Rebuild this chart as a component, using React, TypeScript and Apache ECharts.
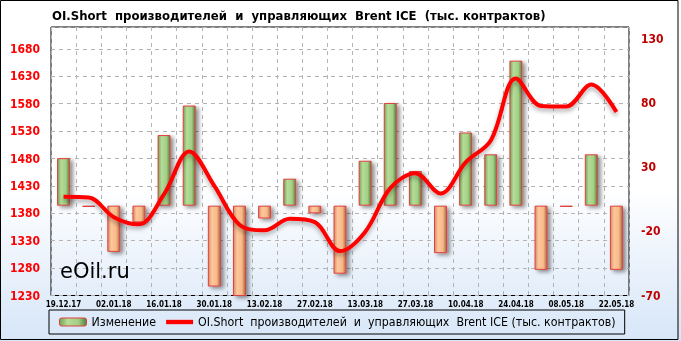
import React, { useEffect, useRef } from "react";
import * as echarts from "echarts";

const categories = [
  "19.12.17", "26.12.17", "02.01.18", "09.01.18", "16.01.18", "23.01.18",
  "30.01.18", "06.02.18", "13.02.18", "20.02.18", "27.02.18", "06.03.18",
  "13.03.18", "20.03.18", "27.03.18", "03.04.18", "10.04.18", "17.04.18",
  "24.04.18", "01.05.18", "08.05.18", "15.05.18", "22.05.18",
];
const changeValues = [37, -1, -36, -13, 55, 78, -63, -71, -10, 21, -6, -53, 35, 80, 27, -37, 57, 40, 113, -50, -1, 40, -50];
const shortValues = [1410, 1409, 1373, 1360, 1415, 1493, 1430, 1359, 1349, 1370, 1364, 1311, 1346, 1426, 1453, 1416, 1473, 1513, 1626, 1576, 1575, 1615, 1565];
const leftTicks = { min: 1230, max: 1720, interval: 50 };
const rightTicks = { min: -70, max: 139.2, interval: 50 };

const TITLE = "OI.Short  производителей  и  управляющих  Brent ICE  (тыс. контрактов)";
const SERIES_BAR = "Изменение";
const SERIES_LINE = "OI.Short  производителей  и  управляющих  Brent ICE (тыс. контрактов)";

const FONT = "'DejaVu Sans Condensed', 'DejaVu Sans', sans-serif";

const greenFill = new echarts.graphic.LinearGradient(0, 0, 1, 0, [
  { offset: 0, color: "#74a356" },
  { offset: 0.3, color: "#b6dc99" },
  { offset: 0.7, color: "#a2cf85" },
  { offset: 1, color: "#56803e" },
]);
const orangeFill = new echarts.graphic.LinearGradient(0, 0, 1, 0, [
  { offset: 0, color: "#d48e63" },
  { offset: 0.3, color: "#fdc79d" },
  { offset: 0.7, color: "#f9b987" },
  { offset: 1, color: "#a86a45" },
]);

export default function App() {
  const ref = useRef<HTMLDivElement>(null);
  useEffect(() => {
    if (!ref.current) return;
    const chart = echarts.init(ref.current, null, { renderer: "svg" });
    chart.setOption({
      animation: false,
      backgroundColor: "transparent",
      textStyle: { fontFamily: FONT },
      title: {
        text: TITLE,
        left: 47,
        top: 4,
        textStyle: { fontSize: 13, fontWeight: "bold", color: "#000", fontFamily: FONT },
      },
      graphic: [
        {
          type: "rect",
          z: -100,
          silent: true,
          shape: { x: 0, y: 0, width: 681, height: 341 },
          style: {
            fill: new echarts.graphic.LinearGradient(0, 0, 0, 1, [
              { offset: 0, color: "#ffffff" },
              { offset: 0.55, color: "#ffffff" },
              { offset: 1, color: "#d7e6f8" },
            ]),
          },
        },
        {
          type: "rect",
          z: 100,
          silent: true,
          shape: { x: 0.5, y: 0.5, width: 677.5, height: 339 },
          style: { fill: "none", stroke: "#000", lineWidth: 1 },
        },
        {
          type: "text",
          z: 100,
          left: 60,
          top: 260,
          style: { text: "eOil.ru", fill: "#000", font: "21px 'DejaVu Sans', sans-serif" },
        },
      ],
      legend: {
        left: 49,
        top: 310,
        padding: [6, 9, 6, 10],
        borderColor: "#000",
        borderWidth: 1,
        itemGap: 10,
        itemWidth: 27,
        itemHeight: 8,
        symbolKeepAspect: true,
        textStyle: { fontSize: 12.3, color: "#000", fontFamily: FONT },
        data: [
          { name: SERIES_BAR, itemStyle: { color: greenFill, borderColor: "#e04040", borderWidth: 1 } },
          { name: SERIES_LINE, icon: "path://M0,0h28v4.5h-28z", itemStyle: { color: "#ff0000" } },
        ],
      },
      grid: {
        left: 51,
        right: 52,
        top: 27,
        bottom: 45.5,
        show: true,
        borderColor: "#000",
        borderWidth: 1,
        backgroundColor: "transparent",
        containLabel: false,
      },
      xAxis: {
        type: "category",
        data: categories,
        boundaryGap: true,
        axisLine: { show: false },
        axisTick: { show: false },
        axisLabel: {
          interval: 1,
          fontSize: 8,
          fontWeight: "bold",
          color: "#000",
          margin: 5,
          fontFamily: FONT,
        },
        splitLine: { show: true, interval: 0, lineStyle: { color: "#b4b4b4", type: [4, 4], width: 1 } },
      },
      yAxis: [
        {
          type: "value",
          position: "left",
          min: leftTicks.min,
          max: leftTicks.max,
          interval: leftTicks.interval,
          axisLine: { show: false },
          axisTick: { show: false },
          axisLabel: {
            showMaxLabel: false,
            color: "#ff0000",
            fontSize: 12,
            fontWeight: "bold",
            margin: 11,
            fontFamily: FONT,
            formatter: (v: number) => (v > 1700 ? "" : String(v)),
          },
          splitLine: { show: true, lineStyle: { color: "#b4b4b4", type: [4, 4], width: 1 } },
        },
        {
          type: "value",
          position: "right",
          min: rightTicks.min,
          max: rightTicks.max,
          interval: rightTicks.interval,
          axisLine: { show: false },
          axisTick: { show: false },
          axisLabel: {
            showMaxLabel: false,
            color: "#c00000",
            fontSize: 12,
            fontWeight: "bold",
            margin: 12,
            fontFamily: FONT,
            formatter: (v: number) => (v > 135 ? "" : String(v)),
          },
          splitLine: { show: false },
        },
      ],
      series: [
        {
          name: SERIES_BAR,
          type: "bar",
          yAxisIndex: 1,
          barWidth: 13,
          clip: true,
          itemStyle: {
            color: greenFill,
            borderColor: "#e04040",
            borderWidth: 1,
            shadowColor: "rgba(0,0,0,0.45)",
            shadowBlur: 4,
            shadowOffsetX: 3,
            shadowOffsetY: 2,
          },
          data: changeValues.map((v) => ({
            value: v,
            itemStyle: { color: v >= 0 ? greenFill : orangeFill },
          })),
          z: 2,
        },
        {
          name: SERIES_LINE,
          type: "line",
          yAxisIndex: 0,
          data: shortValues,
          smooth: 0.35,
          showSymbol: false,
          symbol: "none",
          itemStyle: { color: "#ff0000" },
          lineStyle: {
            color: "#ff0000",
            width: 4,
            shadowColor: "rgba(0,0,0,0.3)",
            shadowBlur: 4,
            shadowOffsetY: 3,
          },
          z: 3,
        },
      ],
    });
    return () => chart.dispose();
  }, []);
  return (
    <div
      ref={ref}
      style={{ position: "fixed", left: 0, top: 0, width: 681, height: 341 }}
    />
  );
}
